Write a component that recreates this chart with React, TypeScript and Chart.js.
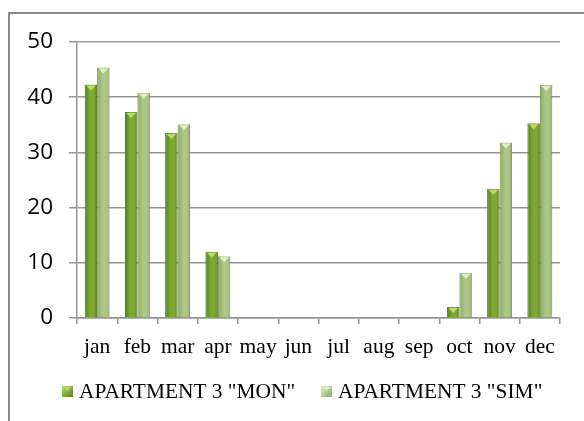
import { useEffect, useRef } from "react";
import { Chart, registerables } from "chart.js";

Chart.register(...registerables);

const categories = ["jan", "feb", "mar", "apr", "may", "jun", "jul", "aug", "sep", "oct", "nov", "dec"];
const monValues = [42.3, 37.3, 33.5, 12.0, null, null, null, null, null, 2.0, 23.4, 35.3];
const simValues = [45.4, 40.8, 35.1, 11.2, null, null, null, null, null, 8.2, 31.8, 42.2];
const seriesLabels = ['APARTMENT 3 "MON"', 'APARTMENT 3 "SIM"'];
const yMin = 0;
const yMax = 50;
const yStep = 10;

const palettes = [
  { edge: "#56801e", mid: "#7ea934", tip: "#b8dc6a", border: "#4b7016" },
  { edge: "#8aaa5f", mid: "#adc788", tip: "#e2f0c8", border: "#78964f" },
];

const CAT_PCT = 0.62;

function barFill(ctx: any) {
  const chart = ctx.chart;
  const pal = palettes[ctx.datasetIndex];
  const xs = chart.scales?.x;
  if (!chart.chartArea || !xs) return pal.mid;
  const c = xs.getPixelForValue(ctx.dataIndex);
  const catW = xs.width / categories.length;
  const bw = (catW * CAT_PCT) / 2;
  const left = ctx.datasetIndex === 0 ? c - bw : c;
  const g = chart.ctx.createLinearGradient(left, 0, left + bw, 0);
  g.addColorStop(0, pal.edge);
  g.addColorStop(0.45, pal.mid);
  g.addColorStop(0.75, pal.mid);
  g.addColorStop(1, pal.edge);
  return g;
}

const framePlugin = {
  id: "frame",
  beforeDraw(chart: any) {
    const c = chart.ctx;
    c.save();
    c.fillStyle = "#ffffff";
    c.fillRect(0, 0, chart.width, chart.height);
    c.strokeStyle = "#8a8a8a";
    c.lineWidth = 2;
    c.beginPath();
    c.moveTo(9, chart.height + 5);
    c.lineTo(9, 13);
    c.lineTo(chart.width + 5, 13);
    c.stroke();
    c.restore();
  },
};

const bevelPlugin = {
  id: "bevel",
  afterDatasetsDraw(chart: any) {
    const c = chart.ctx;
    chart.data.datasets.forEach((ds: any, di: number) => {
      const meta = chart.getDatasetMeta(di);
      meta.data.forEach((el: any, i: number) => {
        if (ds.data[i] == null) return;
        const w = el.width;
        const h = Math.abs(el.base - el.y);
        const th = Math.min(5, h);
        c.save();
        c.fillStyle = palettes[di].tip;
        c.beginPath();
        c.moveTo(el.x - w / 2 + 1.5, el.y + 1);
        c.lineTo(el.x + w / 2 - 1.5, el.y + 1);
        c.lineTo(el.x, el.y + 1 + th);
        c.closePath();
        c.fill();
        c.restore();
      });
    });
  },
};

const legendPlugin = {
  id: "customLegend",
  afterDraw(chart: any) {
    const c = chart.ctx;
    const baseline = 398;
    const starts = [62, 321];
    c.save();
    c.font = '21.4px "Liberation Serif"';
    c.textBaseline = "alphabetic";
    chart.data.datasets.forEach((ds: any, di: number) => {
      const x = starts[di];
      const g = c.createLinearGradient(x, baseline - 12, x + 11, baseline - 1);
      g.addColorStop(0, palettes[di].tip);
      g.addColorStop(1, palettes[di].edge);
      c.fillStyle = g;
      c.fillRect(x, baseline - 12, 11, 11);
      c.fillStyle = palettes[di].tip;
      c.beginPath();
      c.moveTo(x + 2, baseline - 11);
      c.lineTo(x + 9, baseline - 11);
      c.lineTo(x + 5.5, baseline - 7);
      c.closePath();
      c.fill();
      c.fillStyle = "#000";
      c.fillText(ds.label, x + 17, baseline);
    });
    c.restore();
  },
};

export default function App() {
  const ref = useRef<HTMLCanvasElement | null>(null);

  useEffect(() => {
    document.body.style.margin = "0";
    const canvas = ref.current;
    if (!canvas) return;
    const gridColor = "#959595";
    const chart = new Chart(canvas, {
      type: "bar",
      data: {
        labels: categories,
        datasets: [
          {
            label: seriesLabels[0],
            data: monValues,
            backgroundColor: barFill,
            borderColor: palettes[0].border,
            borderWidth: { left: 1, right: 1, top: 0, bottom: 0 },
            borderSkipped: false,
          },
          {
            label: seriesLabels[1],
            data: simValues,
            backgroundColor: barFill,
            borderColor: palettes[1].border,
            borderWidth: { left: 1, right: 1, top: 0, bottom: 0 },
            borderSkipped: false,
          },
        ],
      },
      options: {
        responsive: false,
        animation: false,
        devicePixelRatio: 1,
        layout: { padding: { top: 42, right: 24, bottom: 63, left: 0 } },
        datasets: { bar: { categoryPercentage: CAT_PCT, barPercentage: 1 } },
        plugins: {
          legend: { display: false },
          tooltip: { enabled: false },
        },
        scales: {
          x: {
            grid: {
              offset: true,
              drawOnChartArea: false,
              drawTicks: true,
              tickLength: 6,
              color: gridColor,
              lineWidth: 1.5,
            },
            border: { display: true, color: gridColor, width: 1.5 },
            ticks: {
              font: { family: '"Liberation Serif"', size: 21.5 },
              color: "#000",
              padding: 10,
              maxRotation: 0,
              autoSkip: false,
            },
            afterFit: (s: any) => {
              s.height = 40;
            },
          },
          y: {
            min: yMin,
            max: yMax,
            ticks: {
              stepSize: yStep,
              font: { family: '"Open Sans"', size: 22.5 },
              color: "#000",
              padding: 16,
            },
            grid: { color: gridColor, lineWidth: 1.5, tickLength: 8 },
            border: { display: true, color: gridColor, width: 1.5 },
            afterFit: (s: any) => {
              s.width = 77;
            },
          },
        },
      },
      plugins: [framePlugin, bevelPlugin, legendPlugin],
    });
    return () => chart.destroy();
  }, []);

  return (
    <div style={{ position: "fixed", left: 0, top: 0, width: 584, height: 421 }}>
      <canvas ref={ref} width={584} height={421} />
    </div>
  );
}
